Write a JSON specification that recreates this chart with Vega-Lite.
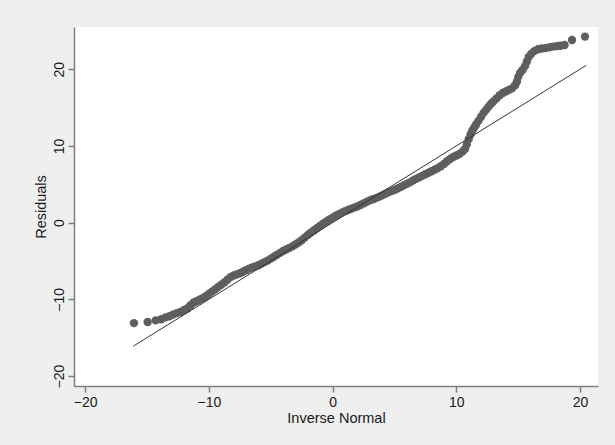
{
  "$schema": "https://vega.github.io/schema/vega-lite/v6.json",
  "width": 524,
  "height": 359,
  "autosize": {"type": "none"},
  "padding": {"left": 74, "top": 27, "right": 17, "bottom": 59},
  "background": "#efefef",
  "config": {"view": {"fill": "white", "stroke": null}, "font": "Liberation Sans"},
  "data": {"values": [
    {"inverse_normal": -16.05, "residual": -13.1},
    {"inverse_normal": -14.95, "residual": -12.95},
    {"inverse_normal": -14.3, "residual": -12.75},
    {"inverse_normal": -13.85, "residual": -12.6},
    {"inverse_normal": -13.5, "residual": -12.35},
    {"inverse_normal": -13.2, "residual": -12.2},
    {"inverse_normal": -12.9, "residual": -12.0},
    {"inverse_normal": -12.6, "residual": -11.8},
    {"inverse_normal": -12.3, "residual": -11.65},
    {"inverse_normal": -12.0, "residual": -11.4},
    {"inverse_normal": -11.75, "residual": -11.2},
    {"inverse_normal": -11.5, "residual": -10.8},
    {"inverse_normal": -11.25, "residual": -10.45},
    {"inverse_normal": -11.0, "residual": -10.25},
    {"inverse_normal": -10.75, "residual": -10.05},
    {"inverse_normal": -10.5, "residual": -9.85},
    {"inverse_normal": -10.25, "residual": -9.6},
    {"inverse_normal": -10.0, "residual": -9.3},
    {"inverse_normal": -9.75, "residual": -9.0},
    {"inverse_normal": -9.5, "residual": -8.7},
    {"inverse_normal": -9.25, "residual": -8.4},
    {"inverse_normal": -9.0, "residual": -8.1},
    {"inverse_normal": -8.75, "residual": -7.8},
    {"inverse_normal": -8.5, "residual": -7.45},
    {"inverse_normal": -8.25, "residual": -7.1},
    {"inverse_normal": -8.0, "residual": -6.9},
    {"inverse_normal": -7.75, "residual": -6.75},
    {"inverse_normal": -7.5, "residual": -6.6},
    {"inverse_normal": -7.25, "residual": -6.4},
    {"inverse_normal": -7.0, "residual": -6.2},
    {"inverse_normal": -6.75, "residual": -6.0},
    {"inverse_normal": -6.5, "residual": -5.85},
    {"inverse_normal": -6.25, "residual": -5.7},
    {"inverse_normal": -6.0, "residual": -5.55},
    {"inverse_normal": -5.75, "residual": -5.35},
    {"inverse_normal": -5.5, "residual": -5.15},
    {"inverse_normal": -5.25, "residual": -4.95},
    {"inverse_normal": -5.0, "residual": -4.7},
    {"inverse_normal": -4.75, "residual": -4.45},
    {"inverse_normal": -4.5, "residual": -4.2},
    {"inverse_normal": -4.25, "residual": -3.95},
    {"inverse_normal": -4.0, "residual": -3.7},
    {"inverse_normal": -3.75, "residual": -3.5},
    {"inverse_normal": -3.5, "residual": -3.3},
    {"inverse_normal": -3.25, "residual": -3.1},
    {"inverse_normal": -3.0, "residual": -2.85},
    {"inverse_normal": -2.75, "residual": -2.6},
    {"inverse_normal": -2.5, "residual": -2.3},
    {"inverse_normal": -2.25, "residual": -1.95},
    {"inverse_normal": -2.0, "residual": -1.6},
    {"inverse_normal": -1.75, "residual": -1.3},
    {"inverse_normal": -1.5, "residual": -1.0},
    {"inverse_normal": -1.25, "residual": -0.7},
    {"inverse_normal": -1.0, "residual": -0.4},
    {"inverse_normal": -0.75, "residual": -0.1},
    {"inverse_normal": -0.5, "residual": 0.15},
    {"inverse_normal": -0.25, "residual": 0.4},
    {"inverse_normal": 0.0, "residual": 0.65},
    {"inverse_normal": 0.25, "residual": 0.9},
    {"inverse_normal": 0.5, "residual": 1.1},
    {"inverse_normal": 0.75, "residual": 1.3},
    {"inverse_normal": 1.0, "residual": 1.5},
    {"inverse_normal": 1.25, "residual": 1.65},
    {"inverse_normal": 1.5, "residual": 1.8},
    {"inverse_normal": 1.75, "residual": 1.95},
    {"inverse_normal": 2.0, "residual": 2.1},
    {"inverse_normal": 2.25, "residual": 2.3},
    {"inverse_normal": 2.5, "residual": 2.5},
    {"inverse_normal": 2.75, "residual": 2.7},
    {"inverse_normal": 3.0, "residual": 2.9},
    {"inverse_normal": 3.25, "residual": 3.05},
    {"inverse_normal": 3.5, "residual": 3.2},
    {"inverse_normal": 3.75, "residual": 3.35},
    {"inverse_normal": 4.0, "residual": 3.55},
    {"inverse_normal": 4.25, "residual": 3.75},
    {"inverse_normal": 4.5, "residual": 3.95},
    {"inverse_normal": 4.75, "residual": 4.1},
    {"inverse_normal": 5.0, "residual": 4.25},
    {"inverse_normal": 5.25, "residual": 4.45},
    {"inverse_normal": 5.5, "residual": 4.65},
    {"inverse_normal": 5.75, "residual": 4.85},
    {"inverse_normal": 6.0, "residual": 5.05},
    {"inverse_normal": 6.25, "residual": 5.25},
    {"inverse_normal": 6.5, "residual": 5.5},
    {"inverse_normal": 6.75, "residual": 5.7},
    {"inverse_normal": 7.0, "residual": 5.9},
    {"inverse_normal": 7.25, "residual": 6.1},
    {"inverse_normal": 7.5, "residual": 6.3},
    {"inverse_normal": 7.75, "residual": 6.5},
    {"inverse_normal": 8.0, "residual": 6.7},
    {"inverse_normal": 8.25, "residual": 6.9},
    {"inverse_normal": 8.5, "residual": 7.1},
    {"inverse_normal": 8.75, "residual": 7.35},
    {"inverse_normal": 9.0, "residual": 7.65},
    {"inverse_normal": 9.25, "residual": 8.0},
    {"inverse_normal": 9.5, "residual": 8.3},
    {"inverse_normal": 9.75, "residual": 8.55},
    {"inverse_normal": 10.0, "residual": 8.75},
    {"inverse_normal": 10.25, "residual": 8.95},
    {"inverse_normal": 10.5, "residual": 9.25},
    {"inverse_normal": 10.7, "residual": 9.6},
    {"inverse_normal": 10.85, "residual": 10.2},
    {"inverse_normal": 11.0, "residual": 10.9},
    {"inverse_normal": 11.15, "residual": 11.5},
    {"inverse_normal": 11.3, "residual": 12.0},
    {"inverse_normal": 11.45, "residual": 12.4},
    {"inverse_normal": 11.6, "residual": 12.8},
    {"inverse_normal": 11.8, "residual": 13.3},
    {"inverse_normal": 12.0, "residual": 13.8},
    {"inverse_normal": 12.2, "residual": 14.3},
    {"inverse_normal": 12.4, "residual": 14.7},
    {"inverse_normal": 12.6, "residual": 15.1},
    {"inverse_normal": 12.8, "residual": 15.5},
    {"inverse_normal": 13.0, "residual": 15.8},
    {"inverse_normal": 13.25, "residual": 16.2},
    {"inverse_normal": 13.5, "residual": 16.6},
    {"inverse_normal": 13.75, "residual": 16.9},
    {"inverse_normal": 14.0, "residual": 17.1},
    {"inverse_normal": 14.25, "residual": 17.3},
    {"inverse_normal": 14.5, "residual": 17.5},
    {"inverse_normal": 14.75, "residual": 17.9},
    {"inverse_normal": 14.9, "residual": 18.4},
    {"inverse_normal": 15.0, "residual": 19.0},
    {"inverse_normal": 15.15, "residual": 19.5},
    {"inverse_normal": 15.35, "residual": 19.9},
    {"inverse_normal": 15.55, "residual": 20.4},
    {"inverse_normal": 15.7, "residual": 21.0},
    {"inverse_normal": 15.85, "residual": 21.6},
    {"inverse_normal": 16.05, "residual": 22.0},
    {"inverse_normal": 16.3, "residual": 22.35},
    {"inverse_normal": 16.6, "residual": 22.6},
    {"inverse_normal": 16.9, "residual": 22.7},
    {"inverse_normal": 17.2, "residual": 22.75},
    {"inverse_normal": 17.5, "residual": 22.85},
    {"inverse_normal": 17.8, "residual": 22.95},
    {"inverse_normal": 18.1, "residual": 23.0},
    {"inverse_normal": 18.4, "residual": 23.05},
    {"inverse_normal": 18.75, "residual": 23.15},
    {"inverse_normal": 19.35, "residual": 23.8},
    {"inverse_normal": 20.4, "residual": 24.25}
  ]},
  "layer": [
    {
      "mark": {"type": "circle", "size": 70, "color": "#5e5e5e", "opacity": 1},
      "encoding": {
        "x": {
          "field": "inverse_normal", "type": "quantitative",
          "scale": {"domain": [-20.9, 21.45], "nice": false, "zero": false},
          "axis": {
            "title": "Inverse Normal", "values": [-20, -10, 0, 10, 20], "grid": false,
            "domainColor": "#7f7f7f", "domainWidth": 1.5, "tickColor": "#7f7f7f", "tickWidth": 1.5, "tickSize": 6,
            "labelFontSize": 14, "labelColor": "#1a1a1a", "labelPadding": 3,
            "titleFontSize": 14.5, "titleFontWeight": "normal", "titleColor": "#1a1a1a", "titlePadding": 2
          }
        },
        "y": {
          "field": "residual", "type": "quantitative",
          "scale": {"domain": [-21.3, 25.5], "nice": false, "zero": false},
          "axis": {
            "title": "Residuals", "values": [-20, -10, 0, 10, 20], "grid": false,
            "domainColor": "#7f7f7f", "domainWidth": 1.5, "tickColor": "#7f7f7f", "tickWidth": 1.5, "tickSize": 6,
            "labelFontSize": 14, "labelColor": "#1a1a1a", "labelPadding": 2,
            "labelAngle": 270, "labelAlign": "center", "labelBaseline": "bottom",
            "titleFontSize": 14.5, "titleFontWeight": "normal", "titleColor": "#1a1a1a", "titlePadding": 4
          }
        }
      }
    },
    {
      "data": {"values": [{"diag": -16.1}, {"diag": 20.5}]},
      "mark": {"type": "line", "color": "#333333", "strokeWidth": 1},
      "encoding": {
        "x": {"field": "diag", "type": "quantitative"},
        "y": {"field": "diag", "type": "quantitative"}
      }
    }
  ]
}
